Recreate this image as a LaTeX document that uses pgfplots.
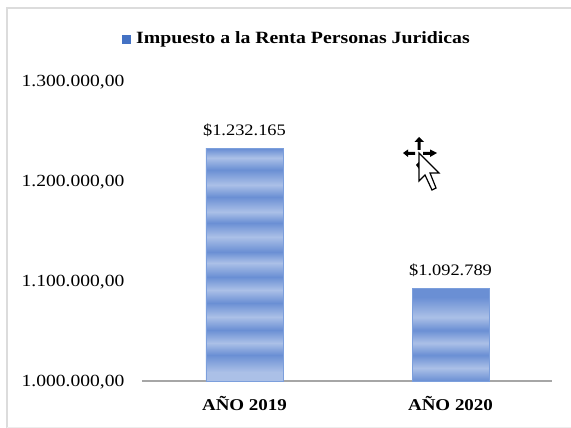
\documentclass[border=0pt]{standalone}
\usepackage{pgfplots}
\pgfplotsset{compat=1.18}
\usepackage{fontspec}
\setmainfont[FakeStretch=1.15]{Liberation Serif}
\definecolor{bd}{HTML}{6A8FD4}
\definecolor{bl}{HTML}{ABC0E7}
\definecolor{bedge}{HTML}{7C9FDC}
\definecolor{legblue}{HTML}{4472C4}
\definecolor{frame}{HTML}{DCDCDC}
\definecolor{axisg}{HTML}{A6A6A6}
\pgfdeclareverticalshading{barone}{100bp}{
color(0bp)=(bl);color(25bp)=(bl);color(26.94bp)=(bl);color(30.60bp)=(bd);color(33.19bp)=(bl);color(35.99bp)=(bd);
color(38.79bp)=(bl);color(41.81bp)=(bd);color(44.61bp)=(bl);color(47.41bp)=(bd);color(50.43bp)=(bl);color(52.80bp)=(bd);
color(56.03bp)=(bl);color(59.05bp)=(bd);color(61.42bp)=(bl);color(64.65bp)=(bd);color(67.24bp)=(bl);color(70.47bp)=(bd);
color(73.06bp)=(bl);color(75bp)=(bd);color(100bp)=(bd)}
\pgfdeclareverticalshading{bartwo}{100bp}{
color(0bp)=(bl);color(25bp)=(bd);color(31.99bp)=(bl);color(38.98bp)=(bd);color(45.43bp)=(bl);color(52.42bp)=(bd);
color(59.41bp)=(bl);color(70.16bp)=(bd);color(75bp)=(bd);color(100bp)=(bd)}
\begin{document}
\begin{tikzpicture}[x=1pt,y=1pt]
\path[use as bounding box] (0,0) rectangle (571,428);
\draw[frame,line width=2pt] (571,420) -- (7,420) -- (7,0);
\draw[frame!50,line width=1pt] (7,0.5) -- (571,0.5);
\begin{axis}[
  at={(142pt,47pt)},anchor=south west,
  scale only axis,width=410pt,height=300pt,
  xmin=-0.5,xmax=1.5,ymin=1000000,ymax=1300000,
  axis x line=bottom,axis y line=left,
  y axis line style={draw=none},
  x axis line style={draw=axisg,line width=1.6pt,-},
  axis line style={-},
  tick style={draw=none},
  xtick={0,1.005},xticklabels={A\~NO 2019,A\~NO 2020},
  xticklabel style={font=\fontsize{16.5}{18}\selectfont\bfseries,yshift=-8pt},
  ytick={1000000,1100000,1200000,1300000},
  scaled y ticks=false,
  yticklabel style={font=\fontsize{17}{20}\selectfont,yshift=-1.5pt,/pgf/number format/.cd,fixed,fixed zerofill,precision=2,1000 sep={.},dec sep={,},assume math mode=true},
  yticklabel shift=12pt,
  ybar,bar width=77pt,
  clip=false,
  nodes near coords style={font=\fontsize{16}{18}\selectfont,text=black,yshift=8pt},
]
\addplot+[bar shift=0pt,draw=bedge,line width=0.8pt,shade,shading=barone,nodes near coords={\$1.232.165}] coordinates {(0,1232165)};
\addplot+[bar shift=0pt,draw=bedge,line width=0.8pt,shade,shading=bartwo,nodes near coords={\$1.092.789}] coordinates {(1.005,1092789)};
\end{axis}
\fill[legblue] (122,428-44) rectangle (131,428-35);
\node[anchor=west,inner sep=0pt,font=\fontsize{17.2}{19}\selectfont\bfseries] at (136,428-39) {Impuesto a la Renta Personas Juridicas};
% mouse cursor decoration
\begin{scope}[yshift=428pt,y=-1pt]
\fill[black] (419,137)--(424,142)--(420.5,142)--(420.5,150)--(417.5,150)--(417.5,142)--(414.5,142)--cycle;
\fill[black] (403,153)--(408,149.5)--(408,152)--(415,152)--(415,155)--(408,155)--(408,157)--cycle;
\fill[black] (437,153)--(430,149.5)--(430,152)--(423,152)--(423,155)--(430,155)--(430,157)--cycle;
\fill[black] (416,165)--(419,162)--(419,169)--cycle;
\draw[black,fill=white,line width=1.2pt] (419,153)--(419,181)--(425,175)--(432,190)--(436,188)--(430,173)--(439,173)--cycle;
\end{scope}
\end{tikzpicture}
\end{document}
